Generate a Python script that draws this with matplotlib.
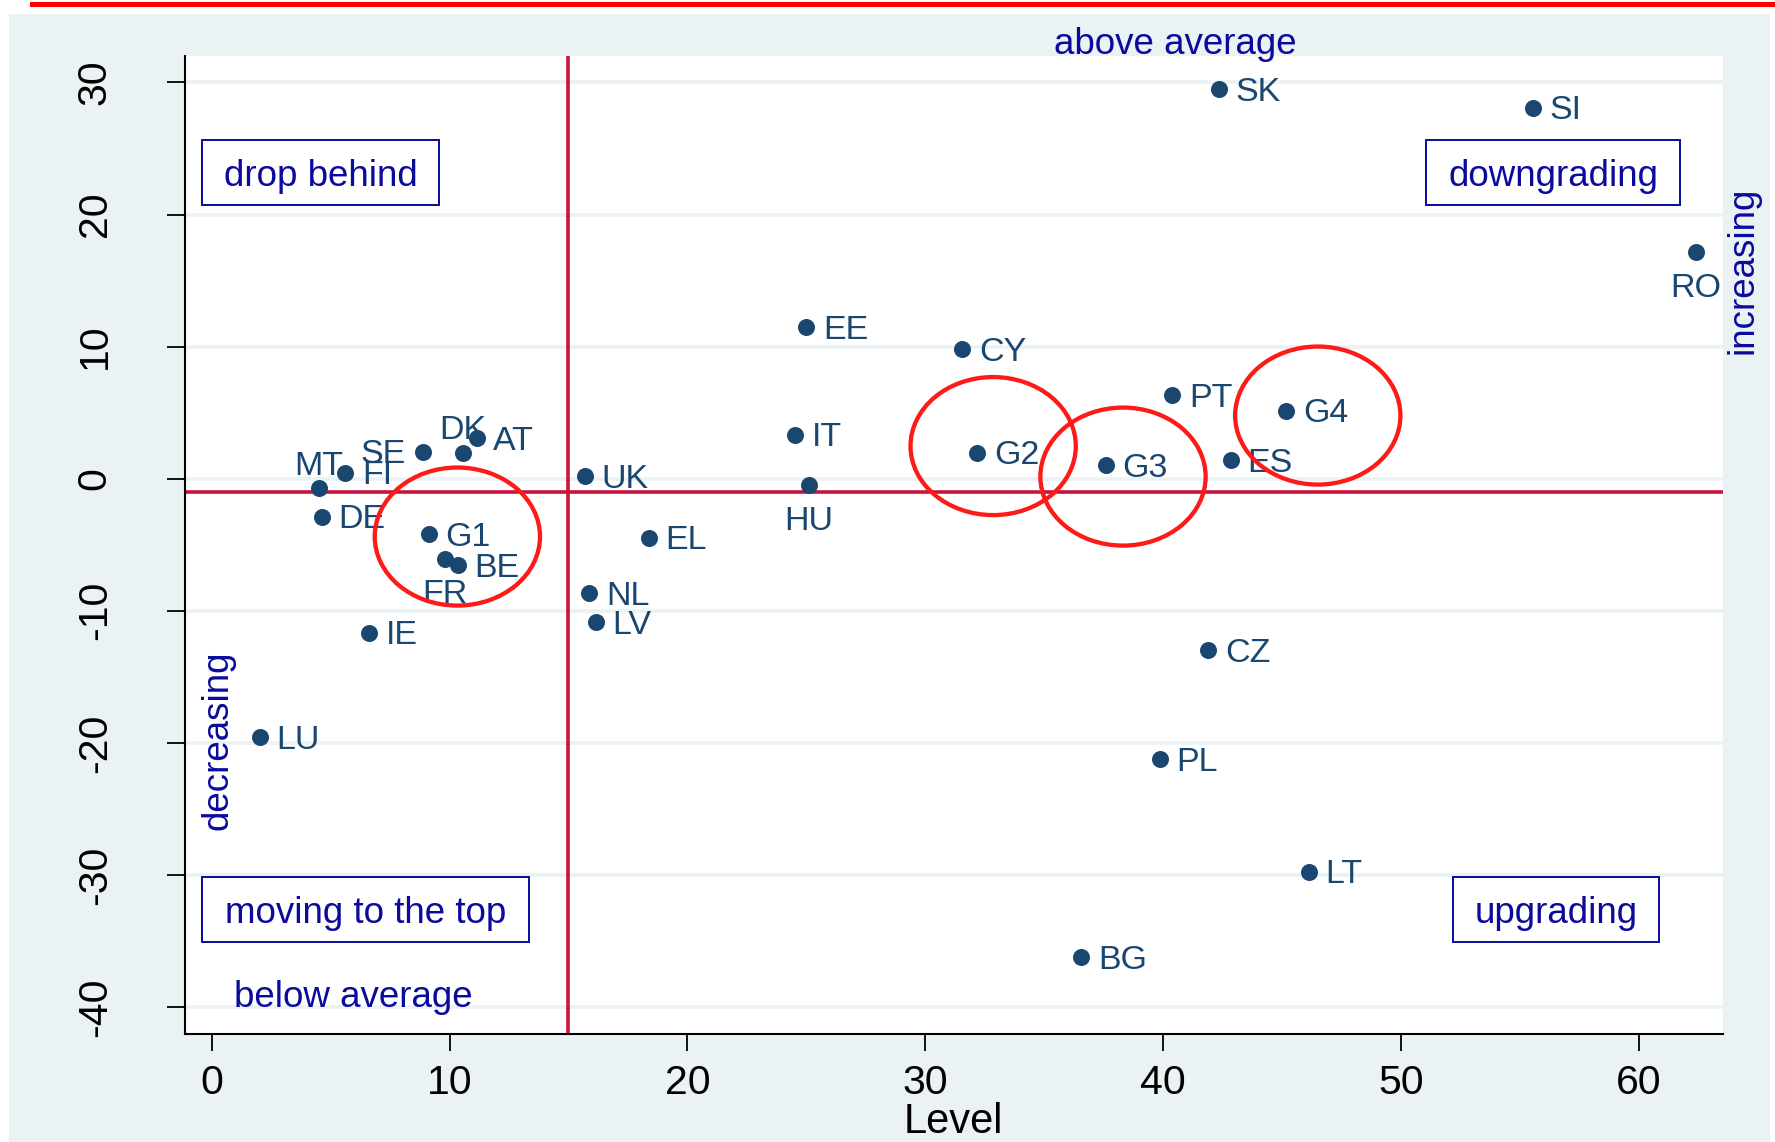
import matplotlib
matplotlib.use('Agg')
import matplotlib.pyplot as plt
from matplotlib.patches import Ellipse, Rectangle
from matplotlib.lines import Line2D

plt.rcParams['font.family'] = ['Liberation Sans', 'DejaVu Sans']
plt.rcParams['axes.unicode_minus'] = False

# country codes, level (x) and change (y)
countries = ['SK', 'SI', 'RO', 'EE', 'CY', 'PT', 'G4', 'IT', 'G2', 'G3', 'ES',
             'UK', 'HU', 'EL', 'NL', 'LV', 'CZ', 'PL', 'LT', 'BG', 'LU', 'IE',
             'DE', 'MT', 'FI', 'SE', 'DK', 'AT', 'G1', 'FR', 'BE']
level = [42.35, 55.55, 62.41, 25.0, 31.56, 40.39, 45.18, 24.52, 32.2, 37.6, 42.86,
         15.7, 25.1, 18.38, 15.87, 16.15, 41.9, 39.86, 46.13, 36.57, 2.03, 6.63,
         4.62, 4.52, 5.61, 8.9, 10.58, 11.14, 9.14, 9.81, 10.34]
change = [29.5, 28.1, 17.15, 11.48, 9.8, 6.34, 5.16, 3.34, 1.98, 1.04, 1.42,
          0.21, -0.51, -4.46, -8.67, -10.86, -13.0, -21.2, -29.74, -36.2, -19.57, -11.65,
          -2.87, -0.72, 0.46, 2.05, 1.98, 3.07, -4.18, -6.07, -6.53]
# label position: r = right, t = top, l = left, b = below
label_pos = {'MT': 't', 'DK': 't', 'SE': 'l', 'FR': 'b', 'RO': 'b', 'HU': 'b'}

# group circles
group_x = [10.33, 32.86, 38.32, 46.51]
group_y = [-4.38, 2.47, 0.16, 4.78]

avg_level = 15
avg_change = -1

navy = '#1a476f'
txtblue = '#0a0a9c'
bg = '#eaf2f3'

fig = plt.figure(figsize=(17.75, 11.42), dpi=100)
fig.patch.set_facecolor('white')
fig.patches.append(Rectangle((9 / 1775, 0), (1770 - 9) / 1775, 1 - 14 / 1142,
                             transform=fig.transFigure, facecolor=bg, edgecolor='none', zorder=-10))
fig.lines.append(Line2D([32 / 1775, 1], [1 - 4.2 / 1142, 1 - 4.2 / 1142],
                        transform=fig.transFigure, color='#ff0000', linewidth=3.6))

ax = fig.add_axes([184.5 / 1775, 1 - 1033.5 / 1142, (1723 - 184.5) / 1775, (1033.5 - 56) / 1142])
ax.set_facecolor('white')
ax.set_xlim(-1.144, 63.55)
ax.set_ylim(-42, 32)

ax.set_xticks(range(0, 61, 10))
ax.set_yticks(range(-40, 31, 10))
ax.yaxis.grid(True, color=bg, linewidth=2.6, zorder=0)
ax.set_axisbelow(True)
for s in ['top', 'right']:
    ax.spines[s].set_visible(False)
for s in ['left', 'bottom']:
    ax.spines[s].set_linewidth(1.5)
ax.tick_params(axis='x', length=12, width=1.3, pad=10, labelsize=29.5)
ax.tick_params(axis='y', length=13, width=1.3, pad=38, labelsize=29.5)
plt.setp(ax.get_yticklabels(), rotation=90, va='center')
ax.set_xlabel('Level', fontsize=30, labelpad=0)

ax.axvline(avg_level, color='#c8143c', linewidth=2.6, zorder=1)
ax.axhline(avg_change, color='#c8143c', linewidth=2.6, zorder=1)

ax.scatter(level, change, s=150, color=navy, zorder=3, linewidths=0)
for c, x, y in zip(countries, level, change):
    p = label_pos.get(c, 'r')
    if p == 'r':
        off, ha = (12, -8.5), 'left'
    elif p == 'l':
        off, ha = (-13, -8.5), 'right'
    elif p == 't':
        off, ha = (0, 9.6), 'center'
    else:
        off, ha = (0, -32), 'center'
    ax.annotate(c, (x, y), xytext=off, textcoords='offset points', ha=ha,
                va='baseline', fontsize=24.5, color=navy, zorder=4)

for gx, gy in zip(group_x, group_y):
    ax.add_patch(Ellipse((gx, gy), 6.95, 10.45, fill=False, edgecolor='#ff1a1a',
                         linewidth=3.1, zorder=5))

# quadrant boxes
boxes = [('drop behind', -0.42, 9.57, 23.15),
         ('downgrading', 51.06, 61.76, 23.15),
         ('moving to the top', -0.42, 13.34, -32.63),
         ('upgrading', 52.18, 60.85, -32.63)]
for txt, x0, x1, yc in boxes:
    ax.add_patch(Rectangle((x0, yc - 2.46), x1 - x0, 4.92, fill=False,
                           edgecolor=txtblue, linewidth=1.4, zorder=4))
    ax.text((x0 + x1) / 2, yc, txt, ha='center', va='center_baseline',
            fontsize=26.5, color=txtblue, zorder=4)

ax.text(40.52, 32.15, 'above average', ha='center', va='baseline', fontsize=26.5,
        color=txtblue, clip_on=False)
ax.text(5.96, -40.0, 'below average', ha='center', va='baseline', fontsize=26.5,
        color=txtblue)
ax.text(0.27, -19.77, 'decreasing', ha='center', va='center', rotation=90,
        fontsize=26.5, color=txtblue)
ax.text(64.38, 15.8, 'increasing', ha='center', va='center', rotation=90,
        fontsize=26.5, color=txtblue, clip_on=False)

fig.savefig('out.png', dpi=100)
